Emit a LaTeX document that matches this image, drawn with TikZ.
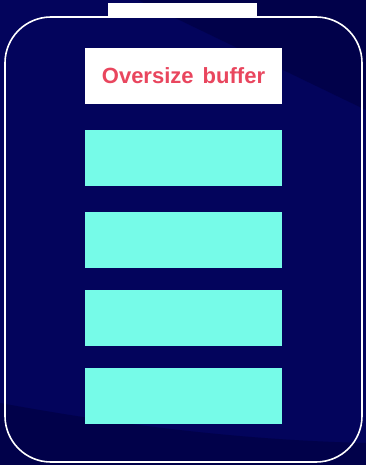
\documentclass[tikz,border=0pt]{standalone}
\usepackage{fontspec}
\setmainfont{Liberation Sans}
\usetikzlibrary{positioning}

\definecolor{navy}{HTML}{03045C}
\definecolor{deepnavy}{HTML}{01014A}
\definecolor{slotcyan}{HTML}{76FBE8}
\definecolor{bufred}{HTML}{E9465E}

\begin{document}
\begin{tikzpicture}[
  x=1pt, y=-1pt,
  cell/.style={minimum width=197pt, minimum height=56pt, inner sep=0pt,
               outer sep=0pt},
  bufbox/.style={cell, fill=white, text=bufred,
                 font=\fontsize{22}{26}\selectfont\bfseries},
  slotbox/.style={cell, fill=slotcyan},
  shell/.style={draw=white, line width=1.6pt, rounded corners=46pt}
]
% background
\fill[navy] (0,0) rectangle (366,465);
\fill[deepnavy] (138,0) -- (366,0) -- (366,110) -- cycle;
\fill[deepnavy] (0,403) .. controls (120,425) and (240,440) .. (366,443)
  -- (366,465) -- (0,465) -- cycle;
\useasboundingbox (0,0) rectangle (366,465);

% battery body and cap
\draw[shell] (5,17) rectangle (362,462);
\fill[white] (108,3) rectangle (257,17);

% buffer and slots
\node[bufbox] (buffer) at (183.5,76) {Oversize\hspace{3pt} buffer};
\foreach \i/\y in {1/158, 2/239.5, 3/318, 4/396}
  \node[slotbox] (slot\i) at (183.5,\y) {};
\end{tikzpicture}
\end{document}
